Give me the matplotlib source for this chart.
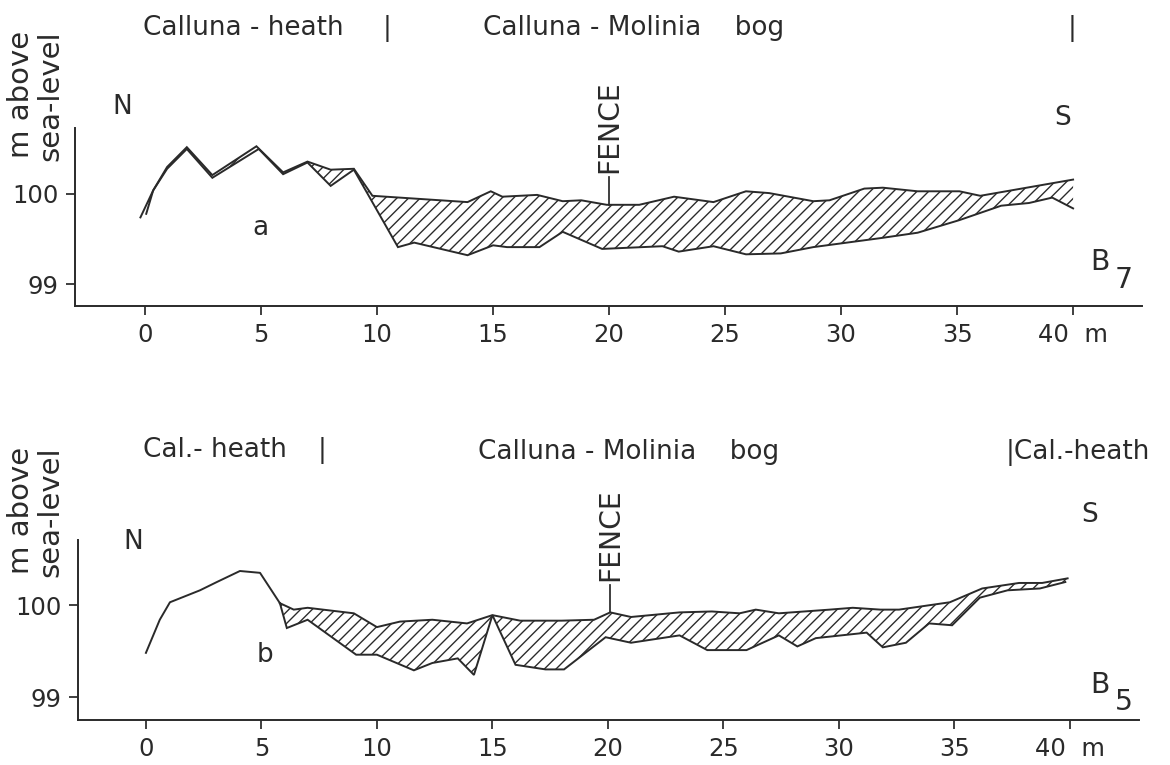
import numpy as np
import matplotlib
matplotlib.use("Agg")
import matplotlib.pyplot as plt

# ---------------- data ----------------
# Profile B7 (top): surface (upper) and base (lower) of hatched layer
b7_upper_x = [0.05, 0.35, 0.95, 1.8, 2.9, 4.8, 5.95, 7.0, 8.0, 9.0, 9.8, 13.9, 14.9, 15.4, 16.9, 18.0,
              18.8, 19.9, 21.3, 22.8, 24.5, 25.9, 26.9, 28.8, 29.5, 31.0, 31.8, 33.3, 35.1, 36.0, 40.0]
b7_upper_y = [99.78, 100.04, 100.30, 100.52, 100.21, 100.53, 100.24, 100.36, 100.27, 100.28, 99.98, 99.91,
              100.03, 99.97, 99.99, 99.92, 99.93, 99.88, 99.88, 99.97, 99.91, 100.03, 100.01, 99.92, 99.93,
              100.06, 100.07, 100.03, 100.03, 99.98, 100.16]
b7_lower_x = [-0.2, 0.35, 0.95, 1.8, 2.9, 4.9, 5.95, 7.0, 8.0, 9.0, 10.9, 11.6, 13.9, 15.0, 15.6, 17.0, 18.0,
              19.7, 22.3, 23.0, 24.5, 25.9, 27.4, 28.8, 31.7, 33.3, 35.1, 36.9, 38.1, 39.1, 40.0]
b7_lower_y = [99.74, 100.04, 100.28, 100.50, 100.18, 100.50, 100.22, 100.35, 100.09, 100.27, 99.41, 99.46,
              99.32, 99.43, 99.41, 99.41, 99.58, 99.39, 99.42, 99.36, 99.42, 99.33, 99.34, 99.41, 99.51,
              99.57, 99.71, 99.87, 99.90, 99.96, 99.84]

# Profile B5 (bottom): heath ridge (single line), then surface and base of hatched layer
b5_ridge_x = [0.0, 0.6, 1.04, 2.34, 3.07, 4.07, 4.94, 5.8]
b5_ridge_y = [99.48, 99.84, 100.03, 100.16, 100.25, 100.37, 100.35, 100.02]
b5_upper_x = [5.8, 6.4, 7.0, 9.0, 10.0, 11.0, 12.4, 13.9, 15.0, 16.2, 18.0, 19.4, 20.1, 21.0, 23.1, 24.5,
              25.7, 26.4, 27.4, 29.6, 30.6, 31.8, 32.6, 34.8, 36.2, 37.8, 38.8, 39.9]
b5_upper_y = [100.02, 99.95, 99.97, 99.91, 99.76, 99.82, 99.84, 99.80, 99.89, 99.83, 99.83, 99.84, 99.92,
              99.87, 99.92, 99.93, 99.91, 99.95, 99.91, 99.95, 99.97, 99.95, 99.95, 100.03, 100.18, 100.24,
              100.24, 100.29]
b5_lower_x = [5.8, 6.1, 7.0, 9.1, 10.0, 11.6, 12.4, 13.5, 14.2, 15.0, 16.0, 17.3, 18.1, 19.9, 21.0, 23.1,
              24.3, 26.0, 27.4, 28.2, 29.0, 31.2, 31.9, 32.9, 33.9, 34.9, 36.1, 37.3, 38.7, 39.8]
b5_lower_y = [100.02, 99.75, 99.84, 99.46, 99.46, 99.29, 99.37, 99.42, 99.24, 99.89, 99.35, 99.30, 99.30,
              99.65, 99.59, 99.67, 99.51, 99.51, 99.67, 99.55, 99.64, 99.70, 99.54, 99.59, 99.80, 99.78,
              100.08, 100.16, 100.18, 100.25]

x_ticks = [0, 5, 10, 15, 20, 25, 30, 35, 40]
x_ticklabels = ["0", "5", "10", "15", "20", "25", "30", "35", "40  m"]
y_ticks = [99, 100]
y_ticklabels = ["99", "100"]

fence_b7 = (20.0, 99.88, 100.19)
fence_b5 = (20.1, 99.92, 100.22)

# ---------------- style ----------------
DPI = 140
W, H = 1170, 765
INK = "#2a2a2a"
FONT = ["DejaVu Sans"]
FS = 12.5      # tick labels
FT = 13.5      # annotations

plt.rcParams["font.family"] = FONT
plt.rcParams["hatch.linewidth"] = 0.7
plt.rcParams["text.color"] = INK

fig = plt.figure(figsize=(W / DPI, H / DPI), dpi=DPI, facecolor="white")


def fp(x, y):
    return x / W, 1 - y / H


def make_ax(left, top, right, bottom, xlim, ylim):
    ax = fig.add_axes([left / W, 1 - bottom / H, (right - left) / W, (bottom - top) / H])
    ax.set_xlim(*xlim)
    ax.set_ylim(*ylim)
    for s in ["top", "right"]:
        ax.spines[s].set_visible(False)
    for s in ["left", "bottom"]:
        ax.spines[s].set_color(INK)
        ax.spines[s].set_linewidth(1.0)
    ax.set_xticks(x_ticks)
    ax.set_xticklabels(x_ticklabels)
    ax.set_yticks(y_ticks)
    ax.set_yticklabels(y_ticklabels)
    ax.tick_params(axis="both", direction="out", length=4.5, width=0.9, colors=INK,
                   labelsize=FS, pad=4)
    ax.set_facecolor("none")
    return ax


def draw_profile(ax, ux, uy, lx, ly):
    px = np.concatenate([ux, lx[::-1]])
    py = np.concatenate([uy, ly[::-1]])
    ax.fill(px, py, facecolor="none", edgecolor=INK, hatch="////", linewidth=0)
    ax.plot(ux, uy, color=INK, lw=1.0, solid_joinstyle="miter")
    ax.plot(lx, ly, color=INK, lw=1.0, solid_joinstyle="miter")


def draw_fence(ax, f):
    x, y0, y1 = f
    ax.plot([x, x], [y0, y1], color=INK, lw=0.9, clip_on=False)
    ax.text(x, y1 + 0.04, "FENCE", rotation=90, ha="center", va="bottom", fontsize=14.5, clip_on=False)


ax1 = make_ax(75, 128, 1142, 306, (-3.02, 42.97), (98.756, 100.733))
draw_profile(ax1, np.array(b7_upper_x), np.array(b7_upper_y), np.array(b7_lower_x), np.array(b7_lower_y))
draw_fence(ax1, fence_b7)

ax2 = make_ax(78, 540, 1139, 720, (-2.94, 42.99), (98.75, 100.707))
ax2.plot(b5_ridge_x, b5_ridge_y, color=INK, lw=1.0)
draw_profile(ax2, np.array(b5_upper_x), np.array(b5_upper_y), np.array(b5_lower_x), np.array(b5_lower_y))
draw_fence(ax2, fence_b5)

# ---------------- annotations ----------------
def t(x, y, s, ha="center", va="center", **kw):
    fig.text(*fp(x, y), s, ha=ha, va=va, fontsize=kw.pop("fontsize", FT), **kw)

# top panel
t(143, 28, "Calluna - heath", ha="left")
t(387, 28, "|")
t(483, 28, "Calluna - Molinia    bog", ha="left")
t(1072, 28, "|")
t(122, 107, "N")
t(1063, 118, "S")
t(260, 228, "a")
t(1100, 262, "B", fontsize=14.5)
t(1124, 280, "7", fontsize=14.5)
t(36, 96, "m above\nsea-level", rotation=90, multialignment="right", linespacing=1.05, fontsize=15)

# bottom panel
t(143, 450, "Cal.- heath", ha="left")
t(322, 450, "|")
t(478, 452, "Calluna - Molinia    bog", ha="left")
t(1006, 452, "|Cal.-heath", ha="left")
t(133, 542, "N")
t(1090, 515, "S")
t(265, 655, "b")
t(1100, 685, "B", fontsize=14.5)
t(1124, 702, "5", fontsize=14.5)
t(36, 512, "m above\nsea-level", rotation=90, multialignment="right", linespacing=1.05, fontsize=15)

fig.savefig("out.png", dpi=DPI, facecolor="white")
